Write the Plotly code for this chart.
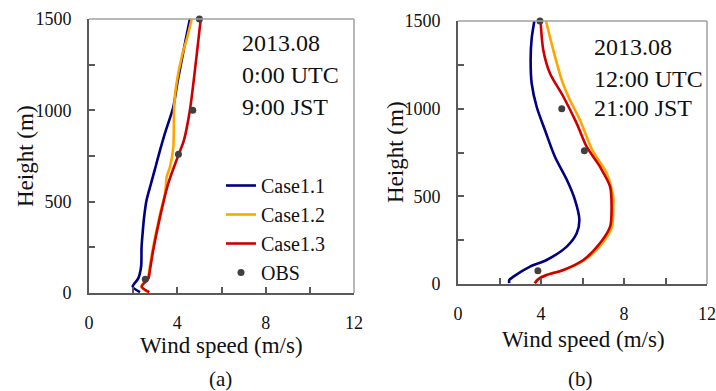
import plotly.graph_objects as go

# ---------------- data ----------------
# Panel (a): 2013.08 0:00 UTC
a_c11_h = [5, 35, 80, 145, 250, 330, 420, 510, 600, 675, 730, 783, 875, 1020, 1150, 1275, 1400, 1500]
a_c11_v = [2.31, 1.98, 2.23, 2.36, 2.38, 2.43, 2.50, 2.61, 2.81, 2.98, 3.10, 3.22, 3.44, 3.82, 4.00, 4.20, 4.40, 4.57]

a_c12_h = [5, 35, 80, 126, 235, 418, 550, 637, 691, 801, 1002, 1129, 1293, 1400, 1500]
a_c12_v = [2.70, 2.36, 2.66, 2.73, 2.88, 3.19, 3.45, 3.52, 3.67, 3.82, 3.85, 3.94, 4.20, 4.45, 4.65]

a_c13_h = [5, 35, 80, 126, 235, 418, 600, 755, 837, 1002, 1275, 1500]
a_c13_v = [2.73, 2.39, 2.69, 2.76, 2.91, 3.22, 3.59, 4.05, 4.30, 4.57, 4.85, 5.06]

a_obs_h = [75, 760, 1000, 1500]
a_obs_v = [2.55, 4.05, 4.70, 5.00]

# Panel (b): 2013.08 12:00 UTC
b_c11_h = [5, 23, 42, 99, 137, 213, 289, 365, 479, 593, 726, 878, 1011, 1145, 1278, 1400, 1500]
b_c11_v = [2.47, 2.47, 2.67, 3.47, 4.27, 5.24, 5.72, 5.85, 5.64, 5.25, 4.67, 4.19, 3.79, 3.55, 3.50, 3.55, 3.68]

b_c12_h = [4, 27, 51, 80, 137, 232, 327, 441, 498, 633, 764, 935, 1068, 1163, 1335, 1500]
b_c12_v = [3.68, 3.84, 4.25, 5.10, 6.10, 6.95, 7.42, 7.48, 7.48, 7.16, 6.47, 5.88, 5.32, 5.00, 4.59, 4.24]

b_c13_h = [4, 27, 51, 80, 137, 232, 327, 441, 555, 669, 783, 916, 1068, 1202, 1335, 1500]
b_c13_v = [3.71, 3.87, 4.27, 5.08, 6.04, 6.84, 7.33, 7.40, 7.33, 6.84, 6.20, 5.72, 5.08, 4.43, 4.11, 3.98]

b_obs_h = [75, 760, 1000, 1500]
b_obs_v = [3.85, 6.09, 5.00, 3.95]

series_names = ["Case1.1", "Case1.2", "Case1.3", "OBS"]
series_colors = ["#000080", "#FFA500", "#CC0000", "#404040"]

x_ticks = [0, 4, 8, 12]
y_ticks = [0, 500, 1000, 1500]

panel_a_text = ["2013.08", "0:00 UTC", "9:00 JST"]
panel_b_text = ["2013.08", "12:00 UTC", "21:00 JST"]

FONT = "Liberation Serif"
W, H = 716, 391

fig = go.Figure()

panels = [
    ("x", "y", [(a_c11_v, a_c11_h), (a_c12_v, a_c12_h), (a_c13_v, a_c13_h)], (a_obs_v, a_obs_h), True),
    ("x2", "y2", [(b_c11_v, b_c11_h), (b_c12_v, b_c12_h), (b_c13_v, b_c13_h)], (b_obs_v, b_obs_h), False),
]
for xa, ya, lines, obs, show in panels:
    for i, (v, h) in enumerate(lines):
        fig.add_trace(go.Scatter(
            x=v, y=h, mode="lines", name=series_names[i],
            line=dict(color=series_colors[i], width=2.6, shape="spline", smoothing=0.8),
            xaxis=xa, yaxis=ya, showlegend=show))
    fig.add_trace(go.Scatter(
        x=obs[0], y=obs[1], mode="markers", name=series_names[3],
        marker=dict(color=series_colors[3], size=7),
        xaxis=xa, yaxis=ya, showlegend=show, cliponaxis=False))

def px2x(p):
    return p / W

def py2y(p):
    return 1 - p / H

TICKC = "#595959"
axis_common = dict(
    showgrid=False, zeroline=False, showline=True, linecolor=TICKC, linewidth=2,
    ticks="inside", ticklen=6, tickwidth=1.5, tickcolor=TICKC, automargin=False,
    tickfont=dict(family=FONT, size=18, color="#111111"),
)
minor_x = dict(tickvals=[2, 6, 10], ticks="inside", ticklen=6, tickwidth=1.5, tickcolor=TICKC)
minor_y = dict(tickvals=[250, 750, 1250], ticks="inside", ticklen=6, tickwidth=1.5, tickcolor=TICKC)

fig.update_layout(
    width=W, height=H, margin=dict(l=0, r=0, t=0, b=0, autoexpand=False),
    paper_bgcolor="white", plot_bgcolor="white",
    font=dict(family=FONT, color="#111111"),
    xaxis=dict(domain=[px2x(89), px2x(354)], range=[0, 12], anchor="y",
               tickvals=x_ticks, ticklabelstandoff=12, minor=minor_x, **axis_common),
    yaxis=dict(domain=[py2y(293), py2y(19)], range=[0, 1500], anchor="x",
               tickvals=y_ticks, ticklabelstandoff=12, minor=minor_y, **axis_common),
    xaxis2=dict(domain=[px2x(458), px2x(707)], range=[0, 12], anchor="y2",
                tickvals=x_ticks, ticklabelstandoff=12, minor=minor_x, **axis_common),
    yaxis2=dict(domain=[py2y(284), py2y(21)], range=[0, 1500], anchor="x2",
                tickvals=y_ticks, ticklabelstandoff=12, minor=minor_y, **axis_common),
    legend=dict(x=px2x(221), y=py2y(166), xanchor="left", yanchor="top",
                font=dict(family=FONT, size=20, color="#111111"),
                bgcolor="rgba(0,0,0,0)", itemwidth=30, tracegroupgap=0),
)

# top / right frame lines (lighter gray)
for xr, yr in [("x domain", "y domain"), ("x2 domain", "y2 domain")]:
    fig.add_shape(type="line", xref=xr, yref=yr, x0=0, x1=1, y0=1, y1=1,
                  line=dict(color="#A0A0A0", width=1.5))
    fig.add_shape(type="line", xref=xr, yref=yr, x0=1, x1=1, y0=0, y1=1,
                  line=dict(color="#A0A0A0", width=1.5))

ann = []
# axis titles
for cx, cy in [(221, 345), (583, 339)]:
    ann.append(dict(text="Wind speed (m/s)", x=px2x(cx), y=py2y(cy), xref="paper", yref="paper",
                    showarrow=False, font=dict(family=FONT, size=23), xanchor="center", yanchor="middle"))
for cx, cy in [(25, 156), (395, 152)]:
    ann.append(dict(text="Height (m)", x=px2x(cx), y=py2y(cy), xref="paper", yref="paper",
                    showarrow=False, textangle=-90, font=dict(family=FONT, size=23),
                    xanchor="center", yanchor="middle"))
# panel labels
for lbl, cx in [("(a)", 220), ("(b)", 580)]:
    ann.append(dict(text=lbl, x=px2x(cx), y=py2y(379), xref="paper", yref="paper",
                    showarrow=False, font=dict(family=FONT, size=21), xanchor="center", yanchor="middle"))
# in-plot text
for txts, lx, ys in [(panel_a_text, 240, [43, 75, 107]), (panel_b_text, 592, [47, 79, 108])]:
    for t, yy in zip(txts, ys):
        ann.append(dict(text=t, x=px2x(lx), y=py2y(yy), xref="paper", yref="paper",
                        showarrow=False, font=dict(family=FONT, size=24), xanchor="left", yanchor="middle"))
fig.update_layout(annotations=ann)

fig.write_html("out.html")
